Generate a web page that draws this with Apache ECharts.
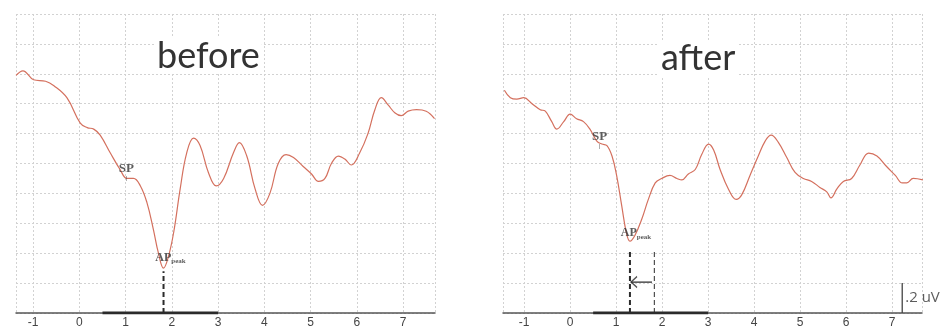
<!DOCTYPE html>
<html>
<head>
<meta charset="utf-8">
<script src="https://cdn.jsdelivr.net/npm/echarts@6/dist/echarts.min.js"></script>
<style>
  html, body { margin: 0; padding: 0; background: #fff; }
  #main { width: 943px; height: 329px; }
</style>
</head>
<body>
<div id="main"></div>
<script>
// trace before (x in ms, y in uV above baseline)
var beforeX = [-1.37, -1.22, -0.99, -0.73, -0.55, -0.27, 0.02, 0.17, 0.31, 0.45, 0.67, 0.88, 1.03, 1.17, 1.32, 1.46, 1.60, 1.71, 1.82, 1.92, 2.04, 2.18, 2.32, 2.47, 2.61, 2.79, 2.96, 3.12, 3.33, 3.46, 3.62, 3.80, 3.96, 4.12, 4.30, 4.47, 4.63, 4.84, 5.02, 5.17, 5.31, 5.45, 5.60, 5.74, 5.88, 6.06, 6.24, 6.39, 6.53, 6.68, 6.82, 6.96, 7.11, 7.29, 7.50, 7.68];
var beforeY = [1.59, 1.62, 1.56, 1.55, 1.52, 1.44, 1.27, 1.24, 1.23, 1.19, 1.07, 0.96, 0.90, 0.90, 0.85, 0.74, 0.56, 0.40, 0.30, 0.37, 0.54, 0.83, 1.07, 1.17, 1.12, 0.94, 0.85, 0.90, 1.07, 1.14, 1.05, 0.83, 0.72, 0.80, 1.00, 1.06, 1.04, 0.98, 0.93, 0.88, 0.90, 1.00, 1.05, 1.03, 0.99, 1.07, 1.20, 1.36, 1.44, 1.39, 1.34, 1.32, 1.35, 1.36, 1.35, 1.30];

// trace after
var afterX = [-1.43, -1.30, -1.16, -1.01, -0.83, -0.65, -0.54, -0.40, -0.29, -0.14, 0.00, 0.14, 0.29, 0.43, 0.58, 0.69, 0.80, 0.91, 1.01, 1.12, 1.22, 1.30, 1.41, 1.56, 1.70, 1.85, 1.99, 2.17, 2.32, 2.43, 2.57, 2.72, 2.86, 3.01, 3.12, 3.26, 3.44, 3.61, 3.73, 3.91, 4.09, 4.24, 4.37, 4.53, 4.71, 4.89, 5.07, 5.25, 5.43, 5.58, 5.67, 5.80, 5.94, 6.12, 6.30, 6.49, 6.67, 6.88, 7.07, 7.22, 7.32, 7.46, 7.67];
var afterY = [1.49, 1.44, 1.43, 1.44, 1.40, 1.36, 1.35, 1.28, 1.23, 1.28, 1.33, 1.30, 1.28, 1.23, 1.15, 1.13, 1.12, 1.05, 0.92, 0.72, 0.54, 0.48, 0.52, 0.63, 0.76, 0.87, 0.90, 0.92, 0.90, 0.89, 0.93, 0.96, 1.06, 1.13, 1.09, 0.96, 0.83, 0.76, 0.79, 0.92, 1.05, 1.15, 1.19, 1.14, 1.04, 0.94, 0.90, 0.88, 0.84, 0.81, 0.77, 0.83, 0.88, 0.90, 0.99, 1.07, 1.05, 0.98, 0.92, 0.87, 0.87, 0.90, 0.89];

var panelTitles = ['before', 'after'];
var stimBar = [0.5, 3];          // thick bar on the time axis
var apBefore = [1.82, 0.30];     // AP peak (before)
var apAfter = [1.30, 0.48];      // AP peak (after)
var spBefore = [1.04, 0.90];
var spAfter = [0.64, 1.12];
var shiftFrom = 1.83;            // old AP latency shown in after panel
var scaleBarX = 7.22;
var scaleBarUV = 0.2;

function zip(xs, ys) {
    var out = [];
    for (var i = 0; i < xs.length; i++) out.push([xs[i], ys[i]]);
    return out;
}

var traceColor = '#d4705e';
var inkColor = '#2b2b2b';

function xAxisFor(idx, min, max) {
    return {
        type: 'value', gridIndex: idx, min: min, max: max,
        minInterval: 1, maxInterval: 1,
        axisLine: { show: true, onZero: false, lineStyle: { color: '#555', width: 1.5 } },
        axisTick: { show: false },
        axisLabel: {
            show: true, showMinLabel: false, showMaxLabel: false,
            color: '#444', fontSize: 12, fontFamily: 'Liberation Sans', margin: 4
        },
        splitLine: { show: true, lineStyle: { color: '#d2d2d2', type: [2, 2], width: 1 } }
    };
}
function yAxisFor(idx) {
    return {
        type: 'value', gridIndex: idx, min: 0, max: 2, interval: 0.2,
        axisLine: { show: false }, axisTick: { show: false }, axisLabel: { show: false },
        splitLine: { show: true, lineStyle: { color: '#d2d2d2', type: [2, 2], width: 1 } }
    };
}

function trace(idx, data) {
    return {
        type: 'line', xAxisIndex: idx, yAxisIndex: idx, data: data,
        smooth: 0.4, showSymbol: false, silent: true, z: 5,
        lineStyle: { color: traceColor, width: 1.2 }
    };
}
function segment(idx, data, width, dash) {
    return {
        type: 'line', xAxisIndex: idx, yAxisIndex: idx, data: data,
        showSymbol: false, silent: true, z: 4,
        lineStyle: { color: inkColor, width: width, type: dash || 'solid' }
    };
}
var apRich = {
    a: { fontFamily: 'Liberation Serif', fontSize: 12, color: '#333', fontWeight: 'bold', lineHeight: 14, verticalAlign: 'top' },
    b: { fontFamily: 'Liberation Serif', fontSize: 7, color: '#333', fontWeight: 'bold', lineHeight: 14, verticalAlign: 'top', padding: [6, 0, 0, 0] }
};
var spRich = {
    s: { fontFamily: 'Liberation Serif', fontSize: 13, color: '#333', fontWeight: 'bold', lineHeight: 13 },
    t: { fontSize: 6, color: '#333', lineHeight: 5 }
};
function tag(idx, pt, text, rich, offset) {
    return {
        type: 'scatter', xAxisIndex: idx, yAxisIndex: idx, data: [pt],
        symbolSize: 0, silent: true, z: 6,
        label: { show: true, position: 'inside', formatter: text, rich: rich, offset: offset, align: 'center' }
    };
}

var option = {
    animation: false,
    backgroundColor: '#fff',
    grid: [
        { left: 16, right: 508, top: 14, bottom: 15 },
        { left: 503, right: 21, top: 14, bottom: 15 }
    ],
    xAxis: [xAxisFor(0, -1.37, 7.69), xAxisFor(1, -1.46, 7.65)],
    yAxis: [yAxisFor(0), yAxisFor(1)],
    graphic: [
        { type: 'text', left: 155, top: 38, z: 10, style: { text: panelTitles[0], font: '36px Lato', fill: '#333', backgroundColor: '#fff', padding: [0, 2] } },
        { type: 'text', left: 659, top: 40, z: 10, style: { text: panelTitles[1], font: '36px Lato', fill: '#333', backgroundColor: '#fff', padding: [0, 2] } }
    ],
    series: [
        trace(0, zip(beforeX, beforeY)),
        trace(1, zip(afterX, afterY)),
        segment(0, [[stimBar[0], 0], [stimBar[1], 0]], 3),
        segment(1, [[stimBar[0], 0], [stimBar[1], 0]], 3),
        segment(0, [[apBefore[0], 0], [apBefore[0], apBefore[1] - 0.02]], 2, [5, 3]),
        segment(1, [[apAfter[0], 0], [apAfter[0], 0.41]], 2, [5, 3]),
        segment(1, [[shiftFrom, 0], [shiftFrom, 0.41]], 1, [5, 3]),
        segment(1, [[shiftFrom - 0.05, 0.207], [apAfter[0] + 0.02, 0.207]], 1.3),
        {
            type: 'scatter', xAxisIndex: 1, yAxisIndex: 1, silent: true, z: 6,
            data: [[apAfter[0] + 0.09, 0.207]],
            symbol: 'path://M10,0 L0,10 L10,20', symbolSize: [6, 11],
            itemStyle: { color: 'transparent', borderColor: inkColor, borderWidth: 1.3 }
        },
        // scale bar
        {
            type: 'line', xAxisIndex: 1, yAxisIndex: 1, silent: true, z: 6,
            data: [[scaleBarX, 0], [scaleBarX, scaleBarUV]],
            symbol: 'path://M0,0 L10,0', symbolSize: [6, 1], showSymbol: true,
            itemStyle: { color: 'transparent', borderColor: '#444', borderWidth: 1 },
            lineStyle: { color: '#444', width: 1.3 }
        },
        {
            type: 'scatter', xAxisIndex: 1, yAxisIndex: 1, silent: true, z: 6,
            data: [[scaleBarX, 0.1]], symbolSize: 0,
            label: { show: true, position: 'right', distance: 3, formatter: '.2 uV', color: '#333', fontSize: 15, fontFamily: 'Open Sans' }
        },
        tag(0, spBefore, '{s|SP}\n{t||}', spRich, [-1, -7]),
        tag(1, spAfter, '{s|SP}\n{t||}', spRich, [0, -6]),
        tag(0, apBefore, '{a|AP}{b|peak}', apRich, [7, -9]),
        tag(1, apAfter, '{a|AP}{b|peak}', apRich, [6, -7])
    ]
};

echarts.init(document.getElementById('main')).setOption(option);
</script>
</body>
</html>
